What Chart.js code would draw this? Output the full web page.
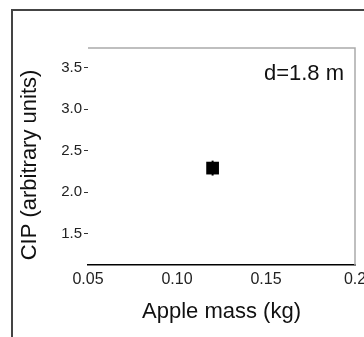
<!DOCTYPE html>
<html>
<head>
<meta charset="utf-8">
<script src="https://cdn.jsdelivr.net/npm/chart.js@4/dist/chart.umd.min.js"></script>
<style>
  html, body { margin: 0; padding: 0; background: #fff; }
  #wrap { width: 364px; height: 337px; position: relative; }
</style>
</head>
<body>
<div id="wrap"><canvas id="cipChart"></canvas></div>
<script>
// data
const massValues = [0.12];
const cipValues = [2.29];
const cipErrLow = [2.2];
const cipErrHigh = [2.38];
const xTickValues = [0.05, 0.10, 0.15, 0.2];
const xTickLabels = ['0.05', '0.10', '0.15', '0.2'];
const yTickValues = [1.5, 2.0, 2.5, 3.0, 3.5];
const annotationText = 'd=1.8 m';
const yTitle = 'CIP (arbitrary units)';

const FONT = '"Liberation Sans", Arial, sans-serif';

// frame, box lines, y title and the distance label
const framePlugin = {
  id: 'frame',
  afterDraw(chart) {
    const { ctx, chartArea } = chart;
    ctx.save();
    ctx.strokeStyle = '#444';
    ctx.lineWidth = 2;
    ctx.beginPath();
    ctx.moveTo(12, 337);
    ctx.lineTo(12, 10);
    ctx.lineTo(364, 10);
    ctx.stroke();

    ctx.strokeStyle = '#aaa';
    ctx.lineWidth = 1.5;
    ctx.beginPath();
    ctx.moveTo(chartArea.left, chartArea.top);
    ctx.lineTo(chartArea.right, chartArea.top);
    ctx.lineTo(chartArea.right, chartArea.bottom);
    ctx.stroke();

    ctx.fillStyle = '#111';
    ctx.font = '22px ' + FONT;
    ctx.textAlign = 'right';
    ctx.textBaseline = 'middle';
    ctx.fillText(annotationText, chartArea.right - 11, 74);

    ctx.translate(30, 165);
    ctx.rotate(-Math.PI / 2);
    ctx.textAlign = 'center';
    ctx.fillText(yTitle, 0, 0);
    ctx.restore();
  }
};

const pointData = massValues.map((m, i) => ({ x: m, y: cipValues[i] }));
const errDatasets = massValues.map((m, i) => ({
  type: 'line',
  data: [{ x: m, y: cipErrLow[i] }, { x: m, y: cipErrHigh[i] }],
  borderColor: '#000',
  borderWidth: 2,
  pointRadius: 0
}));

new Chart(document.getElementById('cipChart'), {
  type: 'scatter',
  data: {
    datasets: [
      ...errDatasets,
      {
        data: pointData,
        pointStyle: 'rect',
        pointRadius: 9,
        backgroundColor: '#000',
        borderColor: '#000',
        borderWidth: 0
      }
    ]
  },
  options: {
    responsive: true,
    maintainAspectRatio: false,
    animation: false,
    layout: { padding: { top: 48, right: 0, left: 0, bottom: 0 } },
    plugins: {
      legend: { display: false },
      tooltip: { enabled: false }
    },
    scales: {
      x: {
        type: 'linear',
        min: 0.05,
        max: 0.2,
        afterBuildTicks: s => { s.ticks = xTickValues.map(v => ({ value: v })); },
        afterFit: s => { s.height = 72; s.paddingRight = 8; },
        grid: { display: false, drawTicks: false },
        border: { color: '#000', width: 1.5 },
        ticks: {
          color: '#222',
          font: { family: FONT, size: 16 },
          padding: 5,
          maxRotation: 0,
          callback: (v, i) => xTickLabels[i]
        },
        title: {
          display: true,
          text: 'Apple mass (kg)',
          color: '#111',
          font: { family: FONT, size: 22 },
          padding: { top: 0, bottom: 12 }
        }
      },
      y: {
        type: 'linear',
        min: 1.12,
        max: 3.74,
        afterBuildTicks: s => { s.ticks = yTickValues.map(v => ({ value: v })); },
        afterFit: s => { s.width = 88; },
        border: { display: false },
        grid: {
          drawOnChartArea: false,
          drawTicks: true,
          tickLength: 4,
          color: '#333'
        },
        ticks: {
          color: '#222',
          font: { family: FONT, size: 15 },
          padding: 2,
          callback: v => v.toFixed(1)
        }
      }
    }
  },
  plugins: [framePlugin]
});
</script>
</body>
</html>
